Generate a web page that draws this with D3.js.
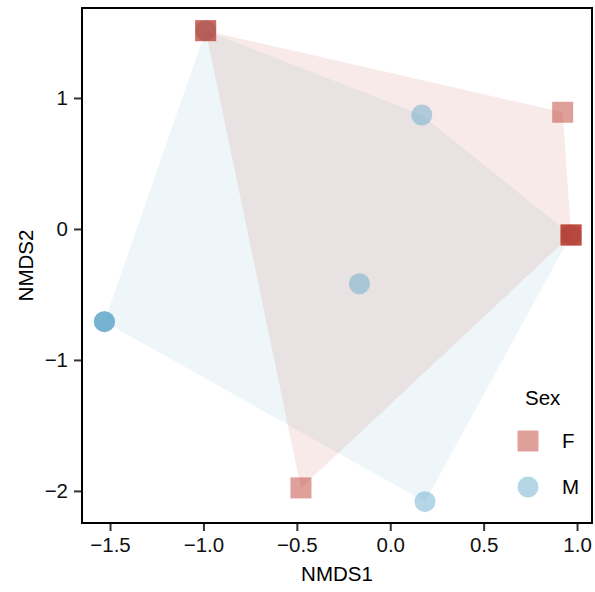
<!DOCTYPE html>
<html>
<head>
<meta charset="utf-8">
<script src="https://cdn.jsdelivr.net/npm/d3@7"></script>
<style>
  html, body { margin: 0; padding: 0; background: #fff; }
  svg text { font-family: "Liberation Sans", Arial, Helvetica, sans-serif; }
</style>
</head>
<body>
<svg id="chart" width="595" height="592"></svg>
<script>
// NMDS ordination scores per sample (repeated coordinates are samples with identical scores)
const sexGroups = ["F", "M"];
const femaleNMDS1 = [-0.988, -0.988, 0.923, 0.968, 0.968, 0.968, -0.478];
const femaleNMDS2 = [1.514, 1.514, 0.891, -0.046, -0.046, -0.046, -1.977];
const maleNMDS1 = [-0.988, 0.169, -0.165, -1.530, -1.530, -1.530, 0.186, 0.968];
const maleNMDS2 = [1.514, 0.870, -0.418, -0.708, -0.708, -0.708, -2.082, -0.046];
const xTicks = [-1.5, -1.0, -0.5, 0.0, 0.5, 1.0];
const yTicks = [-2, -1, 0, 1];
const xLimits = [-1.65, 1.08];
const yLimits = [-2.245, 1.687];

const groupColor = { F: "rgb(185,45,30)", M: "rgb(90,165,200)" };
const pointOpacity = 0.45;
const hullOpacity = 0.1;

const samples = [
  ...maleNMDS1.map((v, i) => ({ sex: "M", x: v, y: maleNMDS2[i] })),
  ...femaleNMDS1.map((v, i) => ({ sex: "F", x: v, y: femaleNMDS2[i] }))
];

const svg = d3.select("#chart");
const panel = { left: 82, right: 592, top: 8, bottom: 523 };

const x = d3.scaleLinear().domain(xLimits).range([panel.left, panel.right]);
const y = d3.scaleLinear().domain(yLimits).range([panel.bottom, panel.top]);

const plot = svg.append("g");

// Convex hull per group
sexGroups.slice().reverse().forEach(g => {
  const pts = samples.filter(d => d.sex === g).map(d => [x(d.x), y(d.y)]);
  const hull = d3.polygonHull(pts);
  plot.append("path")
    .attr("d", "M" + hull.join("L") + "Z")
    .attr("fill", groupColor[g])
    .attr("fill-opacity", hullOpacity)
    .attr("stroke", "none");
});

const markSide = 21;
const markR = 10.5;

// Circles for M, squares for F
plot.selectAll("circle.pt")
  .data(samples.filter(d => d.sex === "M"))
  .join("circle")
  .attr("class", "pt")
  .attr("cx", d => x(d.x))
  .attr("cy", d => y(d.y))
  .attr("r", markR)
  .attr("fill", groupColor.M)
  .attr("fill-opacity", pointOpacity);

plot.selectAll("rect.pt")
  .data(samples.filter(d => d.sex === "F"))
  .join("rect")
  .attr("class", "pt")
  .attr("x", d => x(d.x) - markSide / 2)
  .attr("y", d => y(d.y) - markSide / 2)
  .attr("width", markSide)
  .attr("height", markSide)
  .attr("fill", groupColor.F)
  .attr("fill-opacity", pointOpacity);

// Axes
const xAxis = svg.append("g")
  .attr("transform", `translate(0,${panel.bottom})`)
  .call(d3.axisBottom(x).tickValues(xTicks).tickSize(8).tickPadding(5));
const yAxis = svg.append("g")
  .attr("transform", `translate(${panel.left},0)`)
  .call(d3.axisLeft(y).tickValues(yTicks).tickSize(8).tickPadding(6));

[xAxis, yAxis].forEach(a => {
  a.select(".domain").remove();
  a.selectAll(".tick line").attr("stroke", "#333").attr("stroke-width", 2);
  a.selectAll(".tick text")
    .attr("fill", "#111")
    .style("font-size", "20.5px");
});
xAxis.selectAll(".tick text").attr("dy", "0.78em");
// true minus sign for negative values
xAxis.selectAll(".tick text").text(d => d3.format(".1f")(d).replace("-", "\u2212"));
yAxis.selectAll(".tick text").text(d => String(d).replace("-", "\u2212"));

// Panel border
svg.append("rect")
  .attr("x", panel.left)
  .attr("y", panel.top)
  .attr("width", panel.right - panel.left)
  .attr("height", panel.bottom - panel.top)
  .attr("fill", "none")
  .attr("stroke", "#000")
  .attr("stroke-width", 2);

// Axis titles
svg.append("text")
  .attr("x", (panel.left + panel.right) / 2)
  .attr("y", 581)
  .attr("text-anchor", "middle")
  .style("font-size", "20.5px")
  .text("NMDS1");
svg.append("text")
  .attr("transform", `translate(33,${(panel.top + panel.bottom) / 2}) rotate(-90)`)
  .attr("text-anchor", "middle")
  .style("font-size", "20.5px")
  .text("NMDS2");

// Legend
const legend = svg.append("g");
legend.append("text")
  .attr("x", 525).attr("y", 405)
  .style("font-size", "20.5px")
  .text("Sex");
const keys = legend.selectAll("g.key")
  .data(sexGroups)
  .join("g")
  .attr("class", "key")
  .attr("transform", (d, i) => `translate(528,${441 + i * 46})`);
keys.filter(d => d === "F").append("rect")
  .attr("x", -markSide / 2).attr("y", -markSide / 2)
  .attr("width", markSide).attr("height", markSide)
  .attr("fill", groupColor.F).attr("fill-opacity", pointOpacity);
keys.filter(d => d === "M").append("circle")
  .attr("r", markR)
  .attr("fill", groupColor.M).attr("fill-opacity", pointOpacity);
keys.append("text")
  .attr("x", 34).attr("y", 7)
  .style("font-size", "20.5px")
  .text(d => d);
</script>
</body>
</html>
